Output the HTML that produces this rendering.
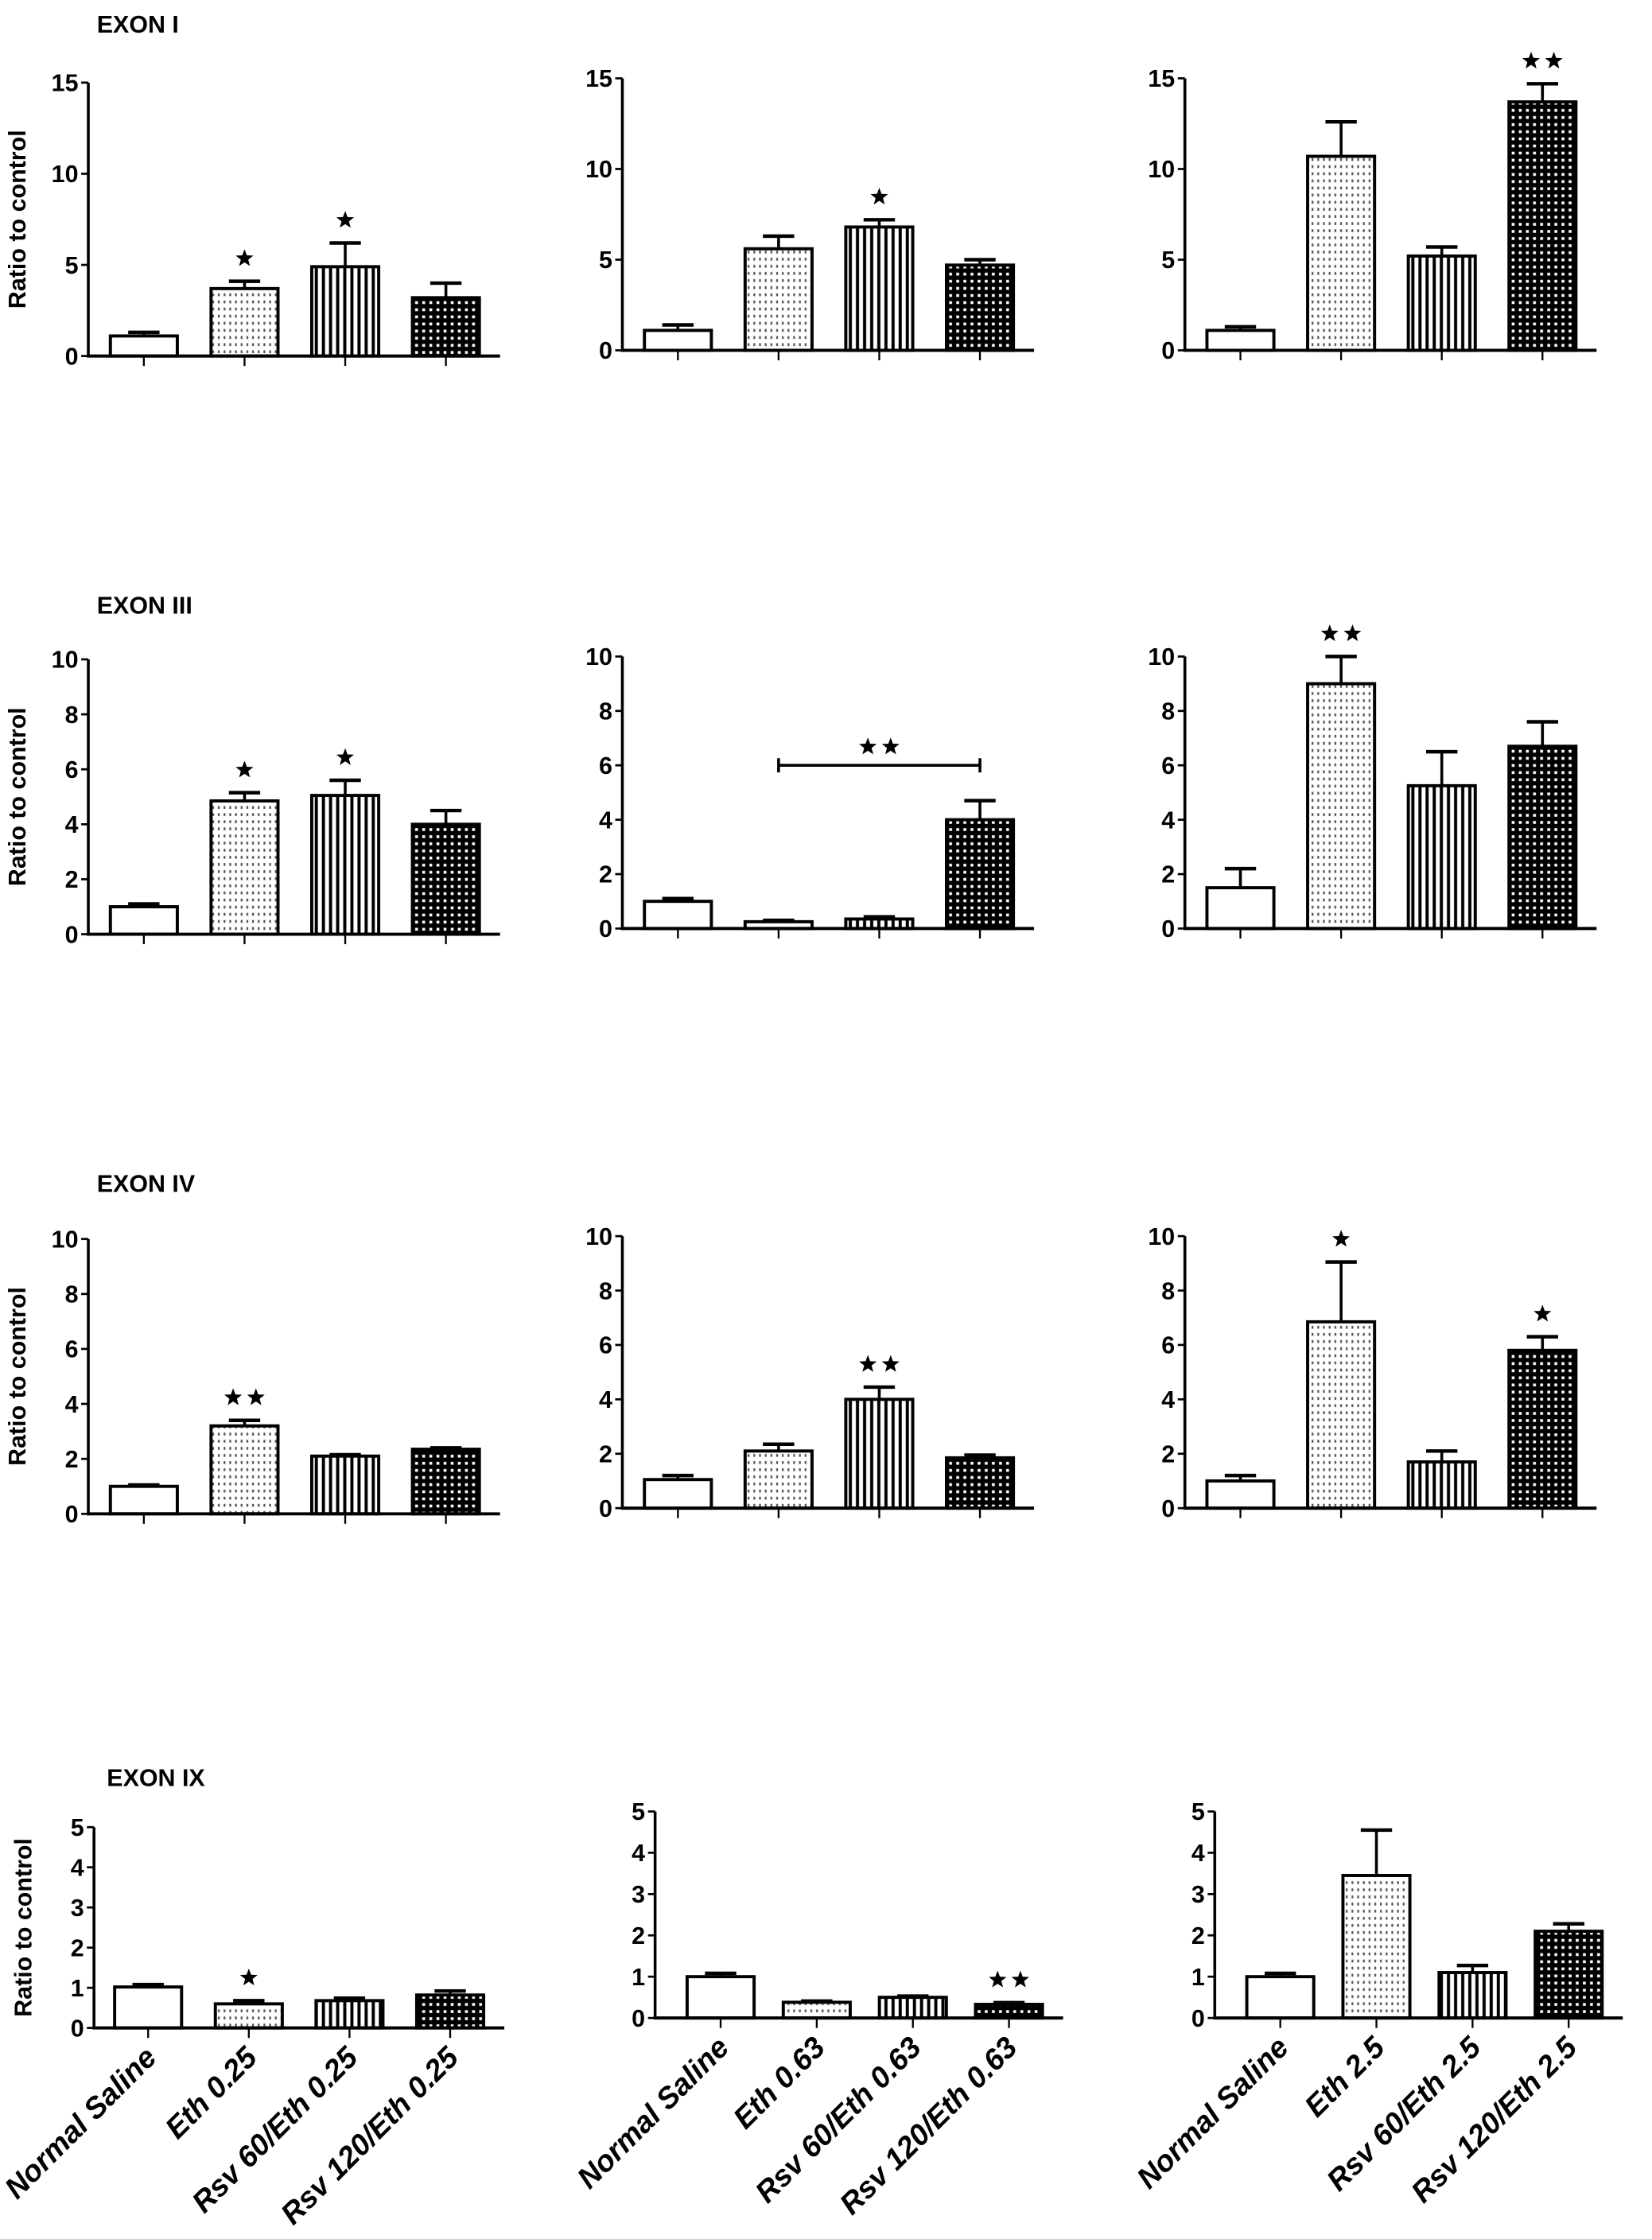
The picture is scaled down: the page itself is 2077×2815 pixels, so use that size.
<!DOCTYPE html>
<html><head><meta charset="utf-8"><style>
html,body{margin:0;padding:0;background:#fff;}
svg{display:block;}
text{font-family:"Liberation Sans",Arial,sans-serif;}
</style></head>
<body>
<svg id="fig" width="2077" height="2815" viewBox="0 0 1160 1572.2" xmlns="http://www.w3.org/2000/svg">
<defs>
<pattern id="pDots" width="4" height="5" patternUnits="userSpaceOnUse"><rect width="4" height="5" fill="#fff"/><rect x="1" y="1" width="1.3" height="2" fill="#555"/></pattern>
<pattern id="pStripe" width="5" height="5" patternUnits="userSpaceOnUse"><rect width="5" height="5" fill="#fff"/><rect x="1" y="0" width="2.2" height="5" fill="#000"/></pattern>
<pattern id="pCheck" width="5" height="5" patternUnits="userSpaceOnUse"><rect width="5" height="5" fill="#000"/><rect x="1.5" y="1.5" width="2" height="2" fill="#fff"/></pattern>
</defs>
</svg>
<script>
// ---- data ----
const categories = [
  ["Normal Saline","Eth 0.25","Rsv 60/Eth 0.25","Rsv 120/Eth 0.25"],
  ["Normal Saline","Eth 0.63","Rsv 60/Eth 0.63","Rsv 120/Eth 0.63"],
  ["Normal Saline","Eth 2.5","Rsv 60/Eth 2.5","Rsv 120/Eth 2.5"]
];
const rowTitles = ["EXON I","EXON III","EXON IV","EXON IX"];
const yMax = [15,10,10,5];
const yTicks = [[0,5,10,15],[0,2,4,6,8,10],[0,2,4,6,8,10],[0,1,2,3,4,5]];
const means = [
  [[1.1,3.7,4.9,3.2],[1.1,5.6,6.8,4.7],[1.1,10.7,5.2,13.7]],
  [[1.0,4.85,5.05,4.0],[1.0,0.25,0.35,4.0],[1.5,9.0,5.25,6.7]],
  [[1.0,3.2,2.1,2.35],[1.05,2.1,4.0,1.85],[1.0,6.85,1.7,5.8]],
  [[1.02,0.6,0.68,0.82],[1.0,0.38,0.5,0.33],[1.0,3.45,1.1,2.1]]
];
const errs = [
  [[0.2,0.4,1.3,0.8],[0.3,0.7,0.4,0.3],[0.2,1.9,0.5,1.0]],
  [[0.1,0.3,0.55,0.5],[0.1,0.05,0.08,0.7],[0.7,1.0,1.25,0.9]],
  [[0.05,0.2,0.05,0.05],[0.15,0.25,0.45,0.1],[0.2,2.2,0.4,0.5]],
  [[0.06,0.08,0.06,0.1],[0.08,0.03,0.03,0.04],[0.08,1.1,0.17,0.18]]
];
const stars = [
  [[0,1,1,0],[0,0,1,0],[0,0,0,2]],
  [[0,1,1,0],[0,0,0,0],[0,2,0,0]],
  [[0,2,0,0],[0,0,2,0],[0,1,0,1]],
  [[0,1,0,0],[0,0,0,2],[0,0,0,0]]
];
const bracket = {row:1,col:1,from:1,to:3,level:6.0,stars:2};

// ---- layout ----
const axX = [[62,437,832],[62,437,832],[62,437,832],[66,460,853]];
const axTop = [[58,55,55],[463,461,461],[870,868,868],[1283,1272,1272]];
const axZero = [[250,246,246],[656,652,652],[1063,1059,1059],[1424,1417,1417]];
const titleY = [23,431,837,1254];
const titleX = [68,68,68,75];
const fills = ["#fff","url(#pDots)","url(#pStripe)","url(#pCheck)"];
const NS="http://www.w3.org/2000/svg";
const svg=document.getElementById('fig');
function mk(tag,attrs,parent){const e=document.createElementNS(NS,tag);for(const k in attrs)e.setAttribute(k,attrs[k]);(parent||svg).appendChild(e);return e;}
function starPath(cx,cy,r){let d="";for(let i=0;i<10;i++){const a=-Math.PI/2+i*Math.PI/5;const rr=i%2?r*0.42:r;d+=(i?"L":"M")+(cx+rr*Math.cos(a)).toFixed(2)+" "+(cy+rr*Math.sin(a)).toFixed(2);}return d+"Z";}
function drawStars(g,cx,cy,n){
  for(let k=0;k<n;k++){const sx=cx+(n===2?(k?8:-8):0);
    const s=mk('path',{d:starPath(sx,cy,6.5),fill:'#000'},g);
    
    }
}

for(let r=0;r<4;r++){
  const t=mk('text',{x:titleX[r],y:titleY[r],'font-size':17,'font-weight':'bold',fill:'#000'});
  t.textContent=rowTitles[r];
  
  
  for(let c=0;c<3;c++){
    const g=mk('g',{});
    
    
    const x0=axX[r][c], yT=axTop[r][c], y0=axZero[r][c];
    const sp = r===3 && c>0 ? 67.5 : 70.7;
    const off = r===3 ? (c>0?46:38) : 39;
    const len = off+sp*3+38;
    const yS=v=>y0-(v/yMax[r])*(y0-yT);
    const xS=i=>x0+off+sp*i;
    for(let i=0;i<4;i++){
      const v=means[r][c][i], e=errs[r][c][i], cx=xS(i);
      const eb=mk('line',{x1:cx,x2:cx,y1:yS(v),y2:yS(v+e),stroke:'#000','stroke-width':2},g);
      
      
      const cap=mk('line',{x1:cx-11,x2:cx+11,y1:yS(v+e),y2:yS(v+e),stroke:'#000','stroke-width':2.5},g);
      
      
      const b=mk('rect',{x:cx-23.5,y:yS(v),width:47,height:y0-yS(v),fill:fills[i],stroke:'#000','stroke-width':2.2},g);
      
      
      if(stars[r][c][i]) drawStars(g,cx,yS(v+e)-16,stars[r][c][i]);
      const tk=mk('line',{x1:cx,x2:cx,y1:y0,y2:y0+7,stroke:'#000','stroke-width':1.3},g);
      
      
      if(r===3){
        const lb=mk('text',{x:cx+7,y:y0+22,'font-size':21,'font-weight':'bold','font-style':'italic','text-anchor':'end',transform:`rotate(-45 ${cx+7} ${y0+22})`},g);
        lb.textContent=categories[c][i];
        
        
      }
    }
    const ya=mk('line',{x1:x0,x2:x0,y1:yT,y2:y0+1,stroke:'#000','stroke-width':2},g);
    
    
    const xa=mk('line',{x1:x0-1,x2:x0+len,y1:y0,y2:y0,stroke:'#000','stroke-width':2.2},g);
    
    
    yTicks[r].forEach(v=>{
      const yy=yS(v);
      const tl=mk('line',{x1:x0-5,x2:x0,y1:yy,y2:yy,stroke:'#000','stroke-width':1.5},g);
      
      
      const tt=mk('text',{x:x0-7,y:yy+6,'font-size':17,'font-weight':'bold','text-anchor':'end'},g);
      tt.textContent=v;
      
      
    });
    if(c===0){
      const yc=(yT+y0)/2, xl=x0-44;
      const yl=mk('text',{x:xl,y:yc,'font-size':17,'font-weight':'bold','text-anchor':'middle',transform:`rotate(-90 ${xl} ${yc})`},g);
      yl.textContent='Ratio to control';
      
      
    }
    if(bracket.row===r && bracket.col===c){
      const by=yS(bracket.level), xa1=xS(bracket.from), xa2=xS(bracket.to);
      const bl=mk('path',{d:`M${xa1} ${by-5}V${by+5}M${xa1} ${by}H${xa2}M${xa2} ${by-5}V${by+5}`,stroke:'#000','stroke-width':2,fill:'none'},g);
      
      
      drawStars(g,(xa1+xa2)/2,by-13,bracket.stars);
    }
  }
}
</script>
</body></html>
